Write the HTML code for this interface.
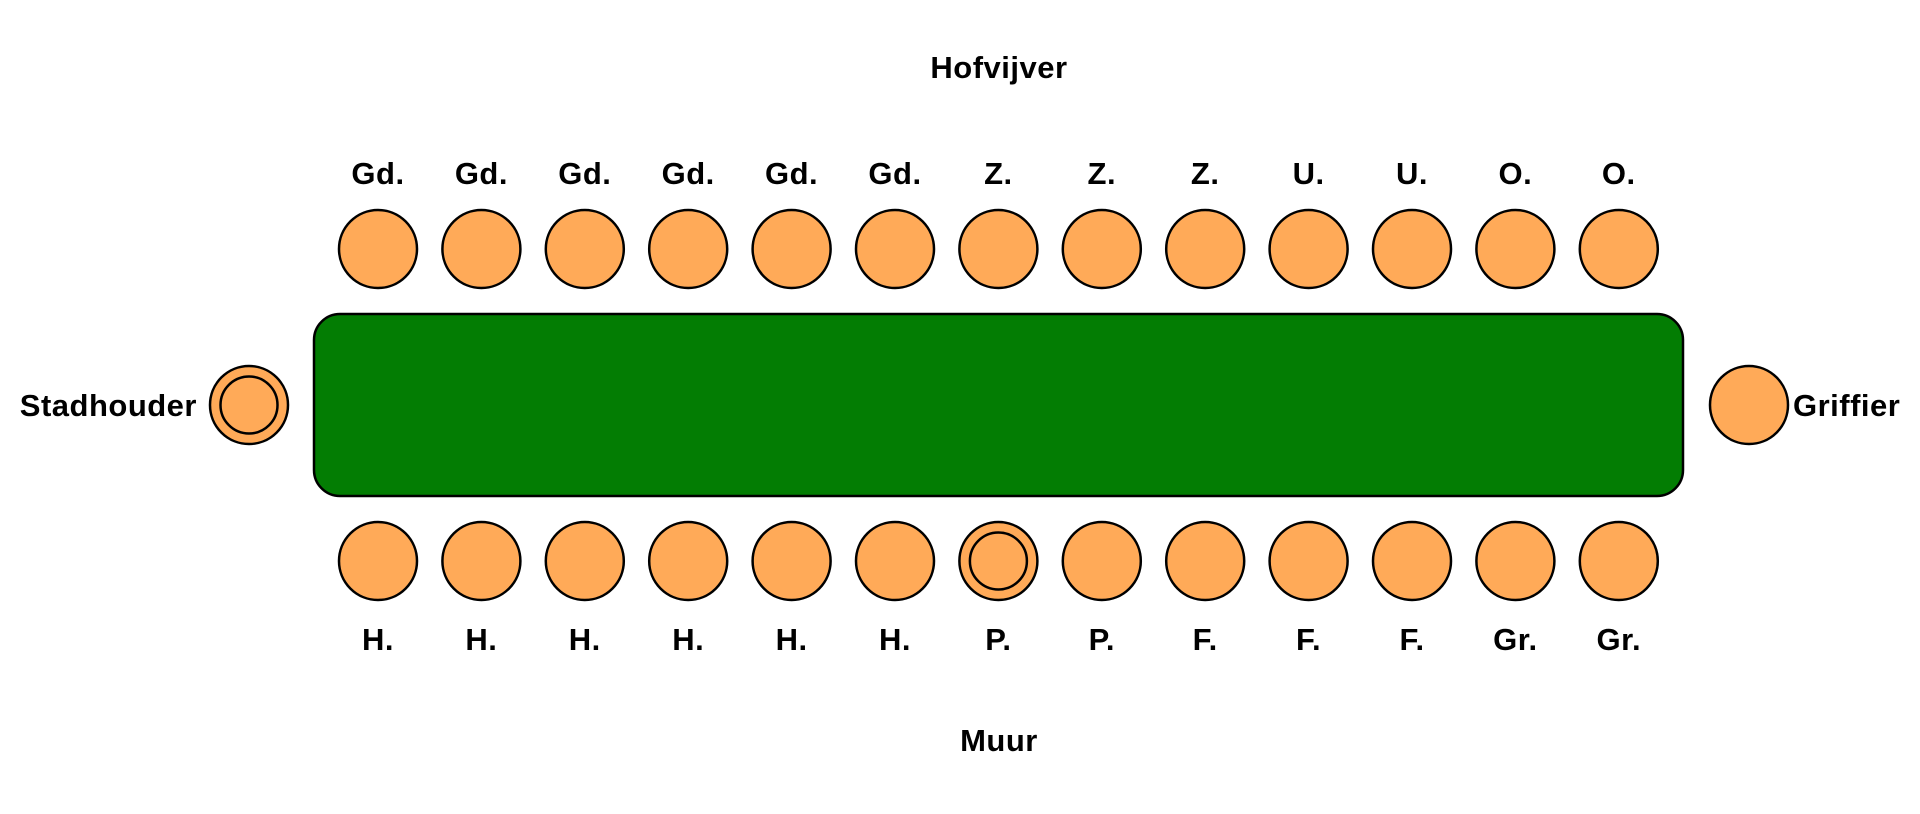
<!DOCTYPE html>
<html><head><meta charset="utf-8"><style>
html,body{margin:0;padding:0;background:#fff;}
svg text{font-family:"Liberation Sans","DejaVu Sans",sans-serif;font-weight:bold;font-size:31px;fill:#000;letter-spacing:0.5px;}
</style></head><body>
<svg width="1920" height="809" viewBox="0 0 1920 809" xmlns="http://www.w3.org/2000/svg">
<g stroke="#000" stroke-width="2.5">
<rect x="314" y="314" width="1369" height="182" rx="26" ry="26" fill="#037d03"/>
<g fill="#ffaa58">
<circle cx="378" cy="249" r="39"/><circle cx="481.4" cy="249" r="39"/><circle cx="584.8" cy="249" r="39"/><circle cx="688.2" cy="249" r="39"/><circle cx="791.6" cy="249" r="39"/><circle cx="895" cy="249" r="39"/><circle cx="998.4" cy="249" r="39"/><circle cx="1101.8" cy="249" r="39"/><circle cx="1205.2" cy="249" r="39"/><circle cx="1308.6" cy="249" r="39"/><circle cx="1412" cy="249" r="39"/><circle cx="1515.4" cy="249" r="39"/><circle cx="1618.8" cy="249" r="39"/>
<circle cx="378" cy="561" r="39"/><circle cx="481.4" cy="561" r="39"/><circle cx="584.8" cy="561" r="39"/><circle cx="688.2" cy="561" r="39"/><circle cx="791.6" cy="561" r="39"/><circle cx="895" cy="561" r="39"/><circle cx="998.4" cy="561" r="39"/><circle cx="1101.8" cy="561" r="39"/><circle cx="1205.2" cy="561" r="39"/><circle cx="1308.6" cy="561" r="39"/><circle cx="1412" cy="561" r="39"/><circle cx="1515.4" cy="561" r="39"/><circle cx="1618.8" cy="561" r="39"/>
<circle cx="998.4" cy="561" r="28.5"/>
<circle cx="249" cy="405" r="39"/><circle cx="249" cy="405" r="28.5"/>
<circle cx="1749" cy="405" r="39"/>
</g></g>
<g text-anchor="middle">
<text x="999" y="78">Hofvijver</text>
<text x="999" y="751">Muur</text>
<text x="378" y="184">Gd.</text><text x="481.4" y="184">Gd.</text><text x="584.8" y="184">Gd.</text><text x="688.2" y="184">Gd.</text><text x="791.6" y="184">Gd.</text><text x="895" y="184">Gd.</text><text x="998.4" y="184">Z.</text><text x="1101.8" y="184">Z.</text><text x="1205.2" y="184">Z.</text><text x="1308.6" y="184">U.</text><text x="1412" y="184">U.</text><text x="1515.4" y="184">O.</text><text x="1618.8" y="184">O.</text>
<text x="378" y="650">H.</text><text x="481.4" y="650">H.</text><text x="584.8" y="650">H.</text><text x="688.2" y="650">H.</text><text x="791.6" y="650">H.</text><text x="895" y="650">H.</text><text x="998.4" y="650">P.</text><text x="1101.8" y="650">P.</text><text x="1205.2" y="650">F.</text><text x="1308.6" y="650">F.</text><text x="1412" y="650">F.</text><text x="1515.4" y="650">Gr.</text><text x="1618.8" y="650">Gr.</text>
</g>
<text x="197" y="416" text-anchor="end">Stadhouder</text>
<text x="1793" y="416">Griffier</text>
</svg>
</body></html>
